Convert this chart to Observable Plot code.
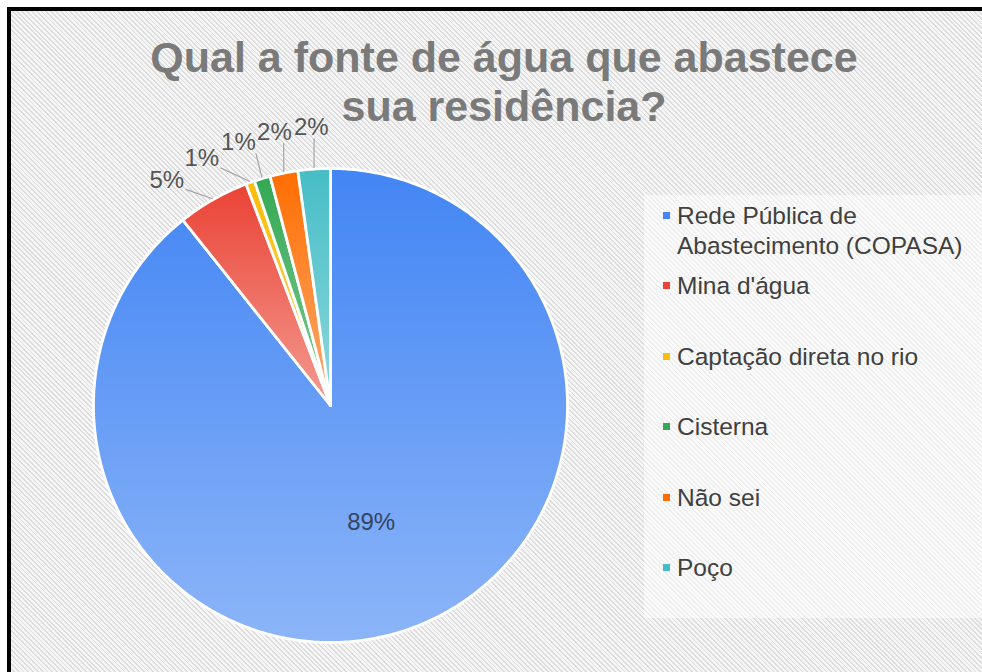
<!DOCTYPE html>
<html><head><meta charset="utf-8">
<script src="https://cdn.jsdelivr.net/npm/d3@7"></script>
<script src="https://cdn.jsdelivr.net/npm/@observablehq/plot@0.6"></script>
<style>
html,body{margin:0;padding:0;background:#fff;width:982px;height:672px;overflow:hidden;font-family:"Liberation Sans",Arial,sans-serif;}
#frame{position:absolute;left:7px;top:7px;width:1000px;height:700px;border-left:4px solid #000;border-top:4px solid #000;
  background:repeating-linear-gradient(45deg,#f6f6f6 0px,#f6f6f6 2.1px,#dcdcdc 2.1px,#dcdcdc 3.4px);}
#legbox{position:absolute;left:644px;top:195px;width:340px;height:423px;background:rgba(255,255,255,0.5);}
#title{position:absolute;left:104px;top:33px;width:800px;text-align:center;font-weight:bold;font-size:43px;line-height:49px;color:#7a7a7a;}
#pie{position:absolute;left:30px;top:105px;}
.leg{position:absolute;left:663px;font-size:24.5px;line-height:30px;color:#404040;width:315px;}
.leg .sw{position:absolute;left:0;top:11px;width:7px;height:7px;}
.leg .tx{margin-left:14px;}
</style></head>
<body>
<div id="frame"></div>
<div id="legbox"></div>
<div id="title">Qual a fonte de água que abastece<br>sua residência?</div>
<div id="pie"></div>
<div id="legend"></div>
<script>
const categories = ["Rede Pública de Abastecimento (COPASA)", "Mina d'água", "Captação direta no rio", "Cisterna", "Não sei", "Poço"];
const values = [89.3, 4.9, 0.6, 1.1, 1.9, 2.2];
const colors = ["#4285f4", "#ea4335", "#fbbc04", "#34a853", "#ff6d01", "#46bdc6"];
const lightColors = ["#8cb5f8", "#f49a90", "#fdd663", "#7fcb95", "#fcab70", "#8fd8dd"];

const R = 237, half = 300, U = half / R;
const total = d3.sum(values);
const arcs = d3.pie().sort(null).value(d => d)(values);

// slice polygons
const pts = [];
arcs.forEach((a, i) => {
  pts.push({i, x: 0, y: 0});
  const n = Math.max(2, Math.ceil((a.endAngle - a.startAngle) / 0.01));
  for (let k = 0; k <= n; k++) {
    const t = a.startAngle + (a.endAngle - a.startAngle) * k / n;
    pts.push({i, x: Math.sin(t), y: Math.cos(t)});
  }
  pts.push({i, x: 0, y: 0});
});

const pct = v => Math.round(v / total * 100) + "%";

// inside label
const inside = [], outsideIdx = [];
arcs.forEach((a, i) => {
  const m = (a.startAngle + a.endAngle) / 2;
  if (a.value / total > 0.1) inside.push({x: 0.52 * Math.sin(m), y: 0.52 * Math.cos(m), text: pct(a.value)});
  else outsideIdx.push(i);
});

// outside labels with simple collision avoidance (pixel units, y up)
const fs = 24, lw = 34, lh = 19, pad = 2;
outsideIdx.sort((a, b) => (arcs[b].startAngle + arcs[b].endAngle) - (arcs[a].startAngle + arcs[a].endAngle));
const placed = [];
for (const i of outsideIdx) {
  const a = arcs[i];
  const m = (a.startAngle + a.endAngle) / 2;
  let th = m, box;
  for (let it = 0; it < 400; it++) {
    const cx = 1.175 * R * Math.sin(th), cy = 1.175 * R * Math.cos(th);
    box = {cx, cy, x0: cx - lw / 2, x1: cx + lw / 2, y0: cy - lh / 2, y1: cy + lh / 2};
    const hit = placed.some(p => !(box.x1 + pad <= p.x0 || box.x0 - pad >= p.x1 || box.y1 + pad <= p.y0 || box.y0 - pad >= p.y1));
    if (!hit) break;
    th -= 0.005;
  }
  const ax = (R + 1) * Math.sin(m), ay = (R + 1) * Math.cos(m);
  const bx = Math.max(box.x0, Math.min(box.x1, ax)), by = Math.max(box.y0 + 1, Math.min(box.y1 - 3, ay));
  const dx = bx - ax, dy = by - ay, d = Math.hypot(dx, dy) || 1;
  const ex = bx - dx / d * pad, ey = by - dy / d * pad;
  placed.push({...box, text: pct(a.value), ax: ax / R, ay: ay / R, bx: ex / R, by: ey / R, x: box.cx / R, y: box.cy / R});
}

const defs = () => {
  const d = d3.create("svg:defs");
  colors.forEach((c, i) => {
    const g = d.append("linearGradient").attr("id", `sg${i}`).attr("x1", 0).attr("y1", 0).attr("x2", 0).attr("y2", 1);
    g.append("stop").attr("offset", 0).attr("stop-color", c);
    g.append("stop").attr("offset", 1).attr("stop-color", lightColors[i]);
  });
  return d.node();
};

const chart = Plot.plot({
  width: 600, height: 600, margin: 0,
  x: {domain: [-U, U], axis: null},
  y: {domain: [-U, U], axis: null},
  color: {type: "identity"},
  style: {background: "transparent", fontFamily: "'Liberation Sans', Arial, sans-serif", overflow: "visible"},
  marks: [
    defs,
    Plot.line(pts, {x: "x", y: "y", z: "i", fill: d => `url(#sg${d.i})`, stroke: "white", strokeWidth: 2.8, strokeLinejoin: "round", curve: "linear"}),
    Plot.link(placed, {x1: "ax", y1: "ay", x2: "bx", y2: "by", stroke: "#a6a6a6", strokeWidth: 1.2}),
    Plot.text(placed, {x: "x", y: "y", text: "text", fill: "#555555", fontSize: fs}),
    Plot.text(inside, {x: "x", y: "y", text: "text", fill: "#37445f", fontSize: 24})
  ]
});
document.getElementById("pie").appendChild(chart);

// legend
const leg = document.getElementById("legend");
categories.forEach((c, i) => {
  const el = document.createElement("div");
  el.className = "leg";
  el.style.top = (201 + 70.4 * i) + "px";
  el.innerHTML = `<div class="sw" style="background:${colors[i]}"></div><div class="tx"></div>`;
  el.querySelector(".tx").textContent = c;
  leg.appendChild(el);
});
</script>
</body></html>
